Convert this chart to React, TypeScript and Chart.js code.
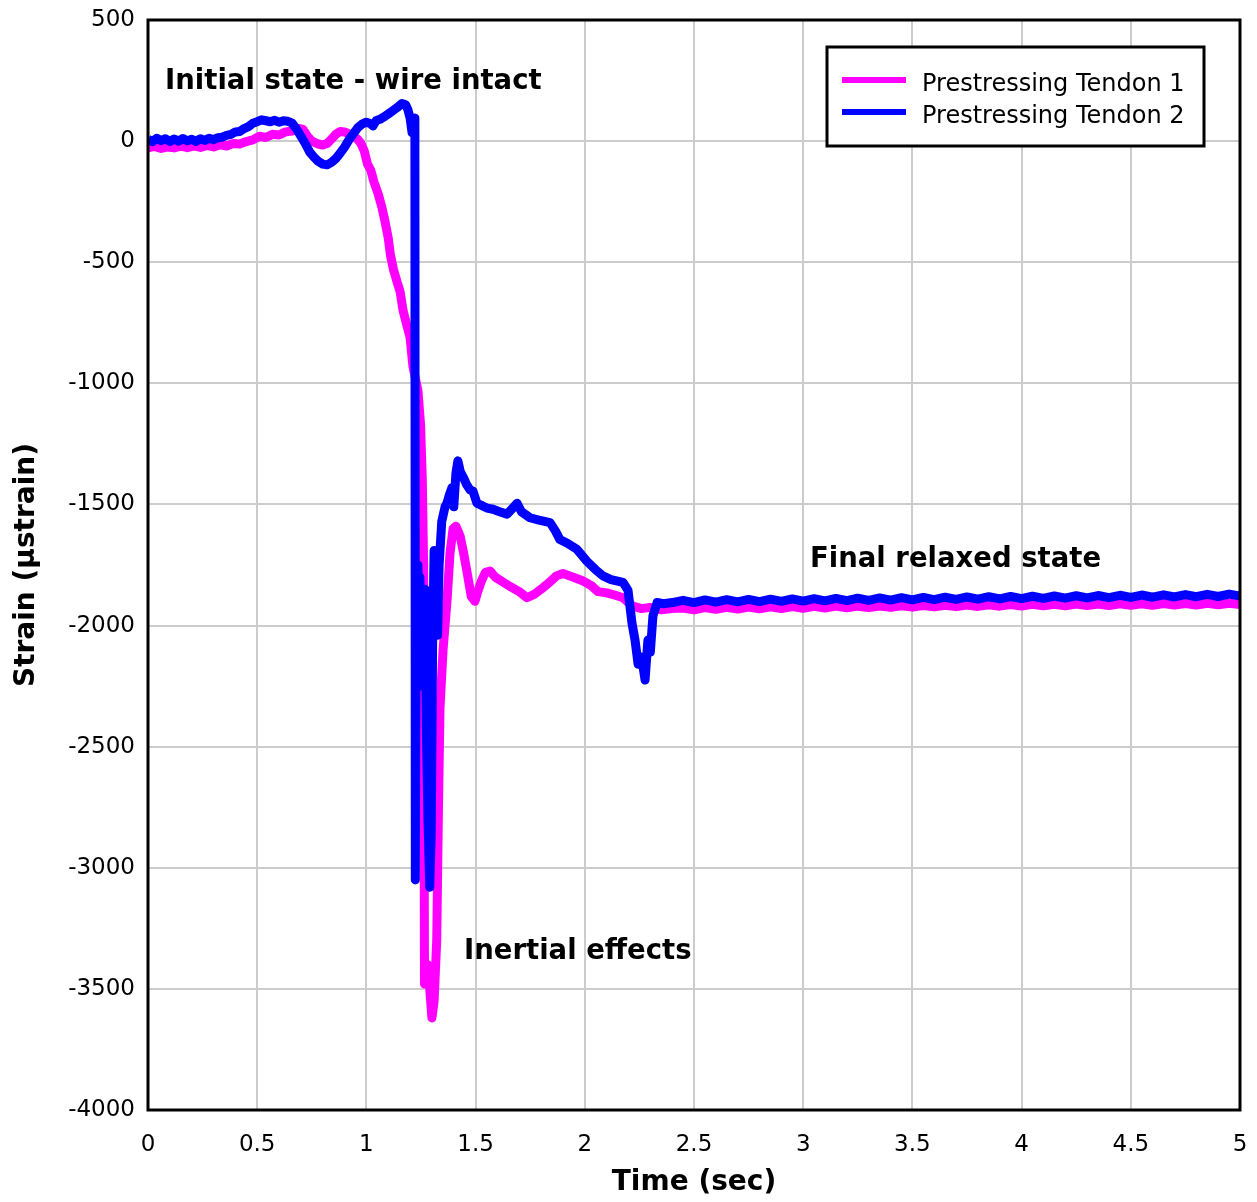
import React, { useEffect, useRef } from 'react';
import { Chart, registerables } from 'chart.js';

Chart.register(...registerables);

// ---------------- data ----------------
const seriesLabels = ['Prestressing Tendon 1', 'Prestressing Tendon 2'];
const seriesColors = ['#ff00ff', '#0000ff'];

const tendon1Time = [
  0.00, 0.03, 0.06, 0.09, 0.12, 0.15, 0.18, 0.21, 0.24, 0.27, 0.30, 0.33, 0.36, 0.39, 0.42, 0.45, 0.48,
  0.51, 0.54, 0.57, 0.60, 0.63, 0.66, 0.69, 0.71, 0.73, 0.75, 0.78, 0.80, 0.82, 0.84, 0.86, 0.88, 0.90,
  0.92, 0.94, 0.96, 0.975, 0.99, 1.005, 1.02, 1.035, 1.053, 1.07, 1.085, 1.10, 1.11, 1.124, 1.14, 1.154,
  1.168, 1.185, 1.20, 1.213, 1.236, 1.248, 1.256, 1.262, 1.266, 1.28, 1.29, 1.30, 1.31, 1.322, 1.33,
  1.337, 1.351, 1.369, 1.383, 1.397, 1.41, 1.429, 1.445, 1.461, 1.48, 1.497, 1.51, 1.525, 1.545, 1.566,
  1.59, 1.625, 1.66, 1.70, 1.735, 1.77, 1.80, 1.84, 1.87, 1.90, 1.93, 1.96, 1.99, 2.03, 2.06, 2.10, 2.14,
  2.175, 2.20, 2.22, 2.26, 2.30, 2.35, 2.40,
  2.45, 2.50, 2.55, 2.60, 2.65, 2.70, 2.75, 2.80, 2.85, 2.90, 2.95, 3.00, 3.05, 3.10, 3.15, 3.20, 3.25,
  3.30, 3.35, 3.40, 3.45, 3.50, 3.55, 3.60, 3.65, 3.70, 3.75, 3.80, 3.85, 3.90, 3.95, 4.00, 4.05, 4.10,
  4.15, 4.20, 4.25, 4.30, 4.35, 4.40, 4.45, 4.50, 4.55, 4.60, 4.65, 4.70, 4.75, 4.80, 4.85, 4.90, 4.95, 5.00,
];
const tendon1Strain = [
  -28, -22, -30, -24, -28, -21, -27, -20, -26, -18, -24, -15, -20, -10, -12, -2, 5,
  20, 15, 28, 25, 38, 42, 52, 48, 20, 0, -12, -16, -10, 8, 28, 40, 38,
  30, 18, 8, -10, -40, -95, -120, -170, -215, -270, -330, -400, -470, -530, -580, -620,
  -700, -760, -810, -930, -1030, -1170, -1400, -1750, -3480, -3400, -3500, -3620, -3550, -3300, -2750,
  -2340, -2100, -1900, -1700, -1600, -1590, -1630, -1700, -1780, -1880, -1900, -1860, -1820, -1780, -1775,
  -1800, -1820, -1840, -1860, -1885, -1870, -1850, -1820, -1795, -1785, -1795, -1805, -1815, -1835, -1860, -1865, -1875,
  -1885, -1905, -1920, -1930, -1925, -1935, -1930,
  -1928, -1935, -1926, -1933, -1925, -1932, -1924, -1931, -1923, -1930, -1922, -1929, -1921, -1928, -1920, -1927, -1920,
  -1926, -1919, -1925, -1918, -1924, -1917, -1923, -1916, -1922, -1915, -1921, -1914, -1920, -1913, -1919, -1912, -1918,
  -1912, -1918, -1911, -1917, -1911, -1917, -1910, -1916, -1910, -1916, -1909, -1915, -1909, -1915, -1908, -1914, -1908, -1913,
];

const tendon2Time = [
  0.00, 0.02, 0.04, 0.06, 0.08, 0.10, 0.12, 0.14, 0.16, 0.18, 0.20, 0.22, 0.24, 0.26, 0.28, 0.30, 0.32,
  0.34, 0.36, 0.38, 0.40, 0.42, 0.44, 0.46, 0.48, 0.50, 0.52, 0.54, 0.56, 0.58, 0.60, 0.62, 0.64, 0.66,
  0.68, 0.70, 0.72, 0.74, 0.76, 0.78, 0.80, 0.82, 0.84, 0.86, 0.88, 0.90, 0.92, 0.94, 0.96, 0.98, 1.00,
  1.02, 1.03, 1.045, 1.062, 1.08, 1.10, 1.12, 1.14, 1.163, 1.18, 1.19, 1.20, 1.209, 1.215, 1.222, 1.224,
  1.228, 1.232, 1.236, 1.24, 1.245, 1.25, 1.255, 1.262, 1.268, 1.275, 1.282, 1.29, 1.297, 1.303, 1.31,
  1.318, 1.326, 1.333, 1.345, 1.36, 1.369, 1.38, 1.392, 1.40, 1.41, 1.419, 1.43, 1.445, 1.46, 1.475,
  1.488, 1.506, 1.53, 1.552, 1.58, 1.61, 1.644, 1.67, 1.69, 1.71, 1.749, 1.79, 1.841, 1.866, 1.886, 1.92,
  1.964, 2.01, 2.05, 2.083, 2.12, 2.175, 2.198, 2.216, 2.23, 2.244, 2.26, 2.276, 2.289, 2.30, 2.312,
  2.331, 2.36, 2.40,
  2.45, 2.50, 2.55, 2.60, 2.65, 2.70, 2.75, 2.80, 2.85, 2.90, 2.95, 3.00, 3.05, 3.10, 3.15, 3.20, 3.25,
  3.30, 3.35, 3.40, 3.45, 3.50, 3.55, 3.60, 3.65, 3.70, 3.75, 3.80, 3.85, 3.90, 3.95, 4.00, 4.05, 4.10,
  4.15, 4.20, 4.25, 4.30, 4.35, 4.40, 4.45, 4.50, 4.55, 4.60, 4.65, 4.70, 4.75, 4.80, 4.85, 4.90, 4.95, 5.00,
];
const tendon2Strain = [
  8, -2, 12, 2, 10, -2, 9, 0, 11, 1, 8, -1, 10, 3, 12, 6, 14,
  16, 24, 28, 38, 40, 52, 60, 74, 80, 88, 84, 80, 86, 78, 84, 82, 74,
  50, 20, -10, -45, -66, -84, -95, -98, -88, -72, -50, -25, 5, 30, 55, 70, 78,
  72, 62, 85, 90, 100, 112, 125, 138, 155, 150, 130, 95, 35, 60, 95, -3050,
  -1950, -2150, -1750, -2100, -1800, -2250, -1900, -2100, -1850, -2450, -2800, -3080, -2850, -2100, -1690,
  -1850, -2040, -1750, -1570, -1510, -1495, -1460, -1430, -1510, -1370, -1320, -1365, -1390, -1420, -1440,
  -1445, -1495, -1505, -1515, -1520, -1530, -1540, -1515, -1495, -1530, -1555, -1565, -1575, -1610, -1645, -1660,
  -1685, -1735, -1770, -1795, -1810, -1822, -1855, -1990, -2060, -2160, -2130, -2225, -2060, -2110, -1960,
  -1905, -1910, -1905,
  -1896, -1905, -1894, -1903, -1893, -1902, -1892, -1901, -1891, -1900, -1890, -1899, -1889, -1898, -1888, -1897, -1887,
  -1896, -1886, -1895, -1885, -1894, -1884, -1893, -1883, -1892, -1882, -1891, -1881, -1890, -1880, -1889, -1879, -1888,
  -1878, -1887, -1877, -1886, -1876, -1885, -1875, -1884, -1874, -1883, -1873, -1882, -1872, -1881, -1871, -1880, -1870, -1878,
];

const xTickLabels = ['0', '0.5', '1', '1.5', '2', '2.5', '3', '3.5', '4', '4.5', '5'];
const yTickLabels = ['500', '0', '-500', '-1000', '-1500', '-2000', '-2500', '-3000', '-3500', '-4000'];

const xAxisTitle = 'Time (sec)';
const yAxisTitle = 'Strain (\u00b5strain)';

const noteTexts = ['Initial state - wire intact', 'Inertial effects', 'Final relaxed state'];
const noteTimes = [0.078, 1.447, 3.031];
const noteStrains = [246, -3348, -1730];

// ---------------- chart ----------------
const FONT = '"DejaVu Sans", "Liberation Sans", sans-serif';

const overlayPlugin = {
  id: 'overlay',
  afterDraw(chart: any) {
    const { ctx, chartArea: a, scales } = chart;
    ctx.save();
    // frame
    ctx.strokeStyle = '#000';
    ctx.lineWidth = 3;
    ctx.strokeRect(a.left, a.top, a.right - a.left, a.bottom - a.top);

    // annotations
    ctx.fillStyle = '#000';
    ctx.font = `bold 27.5px ${FONT}`;
    ctx.textAlign = 'left';
    ctx.textBaseline = 'middle';
    noteTexts.forEach((t, i) => {
      ctx.fillText(t, scales.x.getPixelForValue(noteTimes[i]), scales.y.getPixelForValue(noteStrains[i]));
    });

    // legend
    const bw = 377;
    const bh = 99;
    const bx = a.right - 36 - bw;
    const by = a.top + 27;
    ctx.fillStyle = '#fff';
    ctx.fillRect(bx, by, bw, bh);
    ctx.lineWidth = 3;
    ctx.strokeStyle = '#000';
    ctx.strokeRect(bx, by, bw, bh);
    ctx.font = `24px ${FONT}`;
    ctx.textBaseline = 'alphabetic';
    chart.data.datasets.forEach((ds: any, i: number) => {
      const ly = by + 33 + i * 32;
      ctx.strokeStyle = ds.borderColor;
      ctx.lineWidth = 6;
      ctx.beginPath();
      ctx.moveTo(bx + 15, ly);
      ctx.lineTo(bx + 79, ly);
      ctx.stroke();
      ctx.fillStyle = '#000';
      ctx.fillText(ds.label, bx + 95, ly + 11);
    });
    ctx.restore();
  },
};

const zeroPad = (s: any) => {
  s.paddingTop = 0;
  s.paddingBottom = 0;
  s.paddingLeft = 0;
  s.paddingRight = 0;
};

export default function App() {
  const ref = useRef<HTMLCanvasElement>(null);

  useEffect(() => {
    document.body.style.margin = '0';
    const canvas = ref.current;
    if (!canvas) return;

    const chart = new Chart(canvas, {
      type: 'line',
      data: {
        datasets: [
          {
            label: seriesLabels[0],
            data: tendon1Time.map((t, i) => ({ x: t, y: tendon1Strain[i] })),
            borderColor: seriesColors[0],
            backgroundColor: seriesColors[0],
            borderWidth: 9,
            pointRadius: 0,
            borderJoinStyle: 'round',
            fill: false,
            tension: 0,
            order: 1,
          },
          {
            label: seriesLabels[1],
            data: tendon2Time.map((t, i) => ({ x: t, y: tendon2Strain[i] })),
            borderColor: seriesColors[1],
            backgroundColor: seriesColors[1],
            borderWidth: 9,
            pointRadius: 0,
            borderJoinStyle: 'round',
            fill: false,
            tension: 0,
            order: 0,
          },
        ],
      },
      options: {
        animation: false,
        responsive: false,
        devicePixelRatio: 1,
        layout: { padding: { top: 20, right: 17, left: 0, bottom: 0 } },
        plugins: {
          legend: { display: false },
          tooltip: { enabled: false },
        },
        scales: {
          x: {
            type: 'linear',
            min: 0,
            max: 5,
            afterFit: (s: any) => {
              s.height = 92;
              zeroPad(s);
            },
            ticks: {
              stepSize: 0.5,
              padding: 21,
              color: '#000',
              font: { family: FONT, size: 23 },
              maxRotation: 0,
              callback: (v: any) => xTickLabels[Math.round(Number(v) / 0.5)],
            },
            grid: { color: '#cccccc', lineWidth: 2, drawTicks: false },
            border: { display: false },
            title: {
              display: true,
              text: xAxisTitle,
              color: '#000',
              font: { family: FONT, size: 28, weight: 'bold' },
              padding: { top: 0, bottom: 2 },
            },
          },
          y: {
            type: 'linear',
            min: -4000,
            max: 500,
            afterFit: (s: any) => {
              s.width = 148;
              zeroPad(s);
            },
            ticks: {
              stepSize: 500,
              padding: 13,
              color: '#000',
              font: { family: FONT, size: 23 },
              callback: (v: any) => yTickLabels[Math.round((500 - Number(v)) / 500)],
            },
            grid: { color: '#cccccc', lineWidth: 2, drawTicks: false },
            border: { display: false },
            title: {
              display: true,
              text: yAxisTitle,
              color: '#000',
              font: { family: FONT, size: 28, weight: 'bold' },
              padding: { top: 10, bottom: 0 },
            },
          },
        },
      },
      plugins: [overlayPlugin],
    } as any);

    return () => chart.destroy();
  }, []);

  return <canvas ref={ref} width={1257} height={1202} style={{ display: 'block' }} />;
}
